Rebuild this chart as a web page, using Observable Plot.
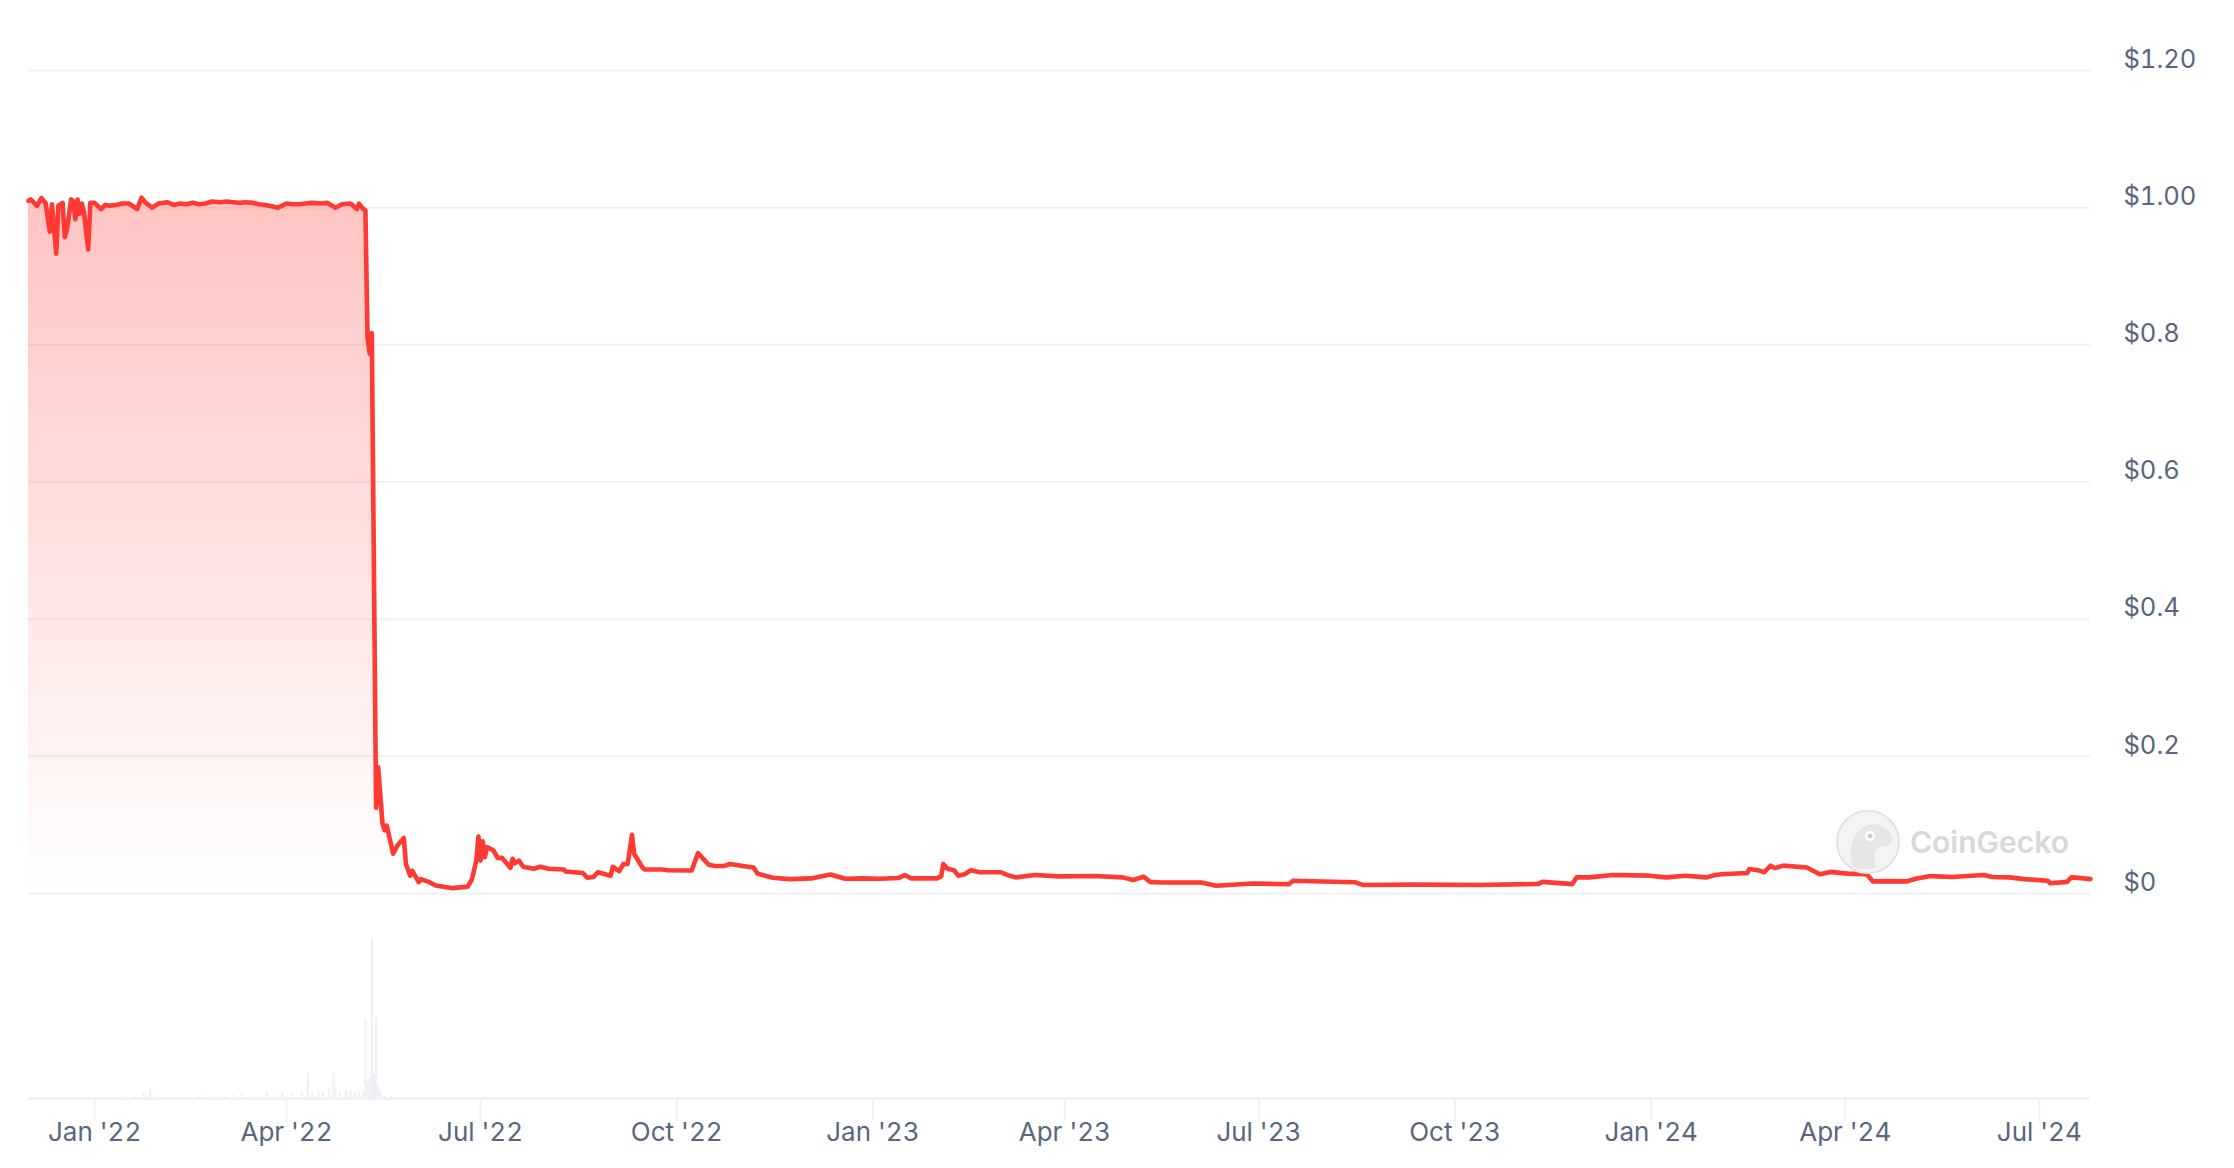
<!DOCTYPE html>
<html>
<head>
<meta charset="utf-8">
<script src="https://cdn.jsdelivr.net/npm/d3@7"></script>
<script src="https://cdn.jsdelivr.net/npm/@observablehq/plot@0.6"></script>
<style>
  html, body { margin: 0; padding: 0; background: #ffffff; }
  #wrap { position: relative; width: 2234px; height: 1168px; overflow: hidden; background: #fff; font-family: Inter, "Noto Sans", sans-serif; }
  #price, #volume { position: absolute; left: 0; }
  #price { top: 0; }
  #volume { top: 900px; }
  #mark { position: absolute; left: 1835px; top: 809px; width: 66px; height: 66px; }
  #markText { position: absolute; left: 1910px; top: 822px; font-size: 30px; line-height: 40px; font-weight: 600; color: #d8d8d8; }
</style>
</head>
<body>
<div id="wrap">
  <div id="price"></div>
  <div id="volume"></div>
  <svg id="mark" viewBox="0 0 66 66">
    <circle cx="33" cy="33" r="31" fill="#f4f4f4" stroke="#e3e3e3" stroke-width="2"/>
    <path d="M17 57 C14 42 16 23 31 17 C43 12 55 19 57 29 C58 35 52 38 45 38 C39 40 38 48 41 58 C33 62 23 61 17 57 Z" fill="#e6e6e6"/>
    <circle cx="35" cy="27" r="5" fill="#ffffff"/>
    <circle cx="35" cy="27" r="2.5" fill="#cfcfcf"/>
  </svg>
  <div id="markText">CoinGecko</div>
</div>
<script>
// ---- Price series (USD) ----
const priceDates = [
  "2021-12-01","2021-12-02","2021-12-03","2021-12-05","2021-12-07","2021-12-09","2021-12-11","2021-12-12",
  "2021-12-14","2021-12-15","2021-12-17","2021-12-18","2021-12-19","2021-12-21","2021-12-22","2021-12-23",
  "2021-12-24","2021-12-25","2021-12-26","2021-12-27","2021-12-29","2021-12-30","2022-01-01","2022-01-04",
  "2022-01-06","2022-01-08","2022-01-11","2022-01-14","2022-01-17","2022-01-21","2022-01-23","2022-01-25",
  "2022-01-28","2022-01-31","2022-02-04","2022-02-07","2022-02-10","2022-02-13","2022-02-16","2022-02-19",
  "2022-02-22","2022-02-25","2022-03-01","2022-03-04","2022-03-07","2022-03-10","2022-03-13","2022-03-16",
  "2022-03-19","2022-03-22","2022-03-25","2022-03-28","2022-04-01","2022-04-04","2022-04-07","2022-04-10",
  "2022-04-13","2022-04-17","2022-04-20","2022-04-24","2022-04-27","2022-05-01","2022-05-04","2022-05-05",
  "2022-05-07","2022-05-08","2022-05-09","2022-05-10","2022-05-11","2022-05-13","2022-05-14","2022-05-16",
  "2022-05-17","2022-05-18","2022-05-21","2022-05-23","2022-05-26","2022-05-27","2022-05-29","2022-05-30",
  "2022-06-02","2022-06-03","2022-06-07","2022-06-10","2022-06-18","2022-06-25","2022-06-27","2022-06-29",
  "2022-06-30","2022-07-01","2022-07-02","2022-07-03","2022-07-04","2022-07-07","2022-07-09","2022-07-11",
  "2022-07-15","2022-07-16","2022-07-17","2022-07-19","2022-07-21","2022-07-26","2022-07-29","2022-08-02",
  "2022-08-09","2022-08-10","2022-08-18","2022-08-20","2022-08-23","2022-08-25","2022-08-31","2022-09-01",
  "2022-09-04","2022-09-06","2022-09-08","2022-09-10","2022-09-11","2022-09-15","2022-09-16","2022-09-24",
  "2022-09-27","2022-10-08","2022-10-11","2022-10-13","2022-10-16","2022-10-19","2022-10-23","2022-10-26",
  "2022-11-01","2022-11-06","2022-11-08","2022-11-15","2022-11-23","2022-12-03","2022-12-12","2022-12-19",
  "2022-12-27","2023-01-04","2023-01-13","2023-01-16","2023-01-19","2023-01-31","2023-02-02","2023-02-03",
  "2023-02-05","2023-02-08","2023-02-10","2023-02-13","2023-02-16","2023-02-20","2023-03-02","2023-03-05",
  "2023-03-09","2023-03-18","2023-03-29","2023-04-15","2023-04-28","2023-05-03","2023-05-08","2023-05-11",
  "2023-05-16","2023-06-04","2023-06-11","2023-06-28","2023-07-15","2023-07-17","2023-08-15","2023-08-19",
  "2023-09-12","2023-10-13","2023-11-09","2023-11-11","2023-11-25","2023-11-27","2023-12-03","2023-12-14",
  "2023-12-31","2024-01-08","2024-01-17","2024-01-27","2024-01-31","2024-02-03","2024-02-15","2024-02-16",
  "2024-02-20","2024-02-23","2024-02-26","2024-02-28","2024-03-03","2024-03-14","2024-03-20","2024-03-25",
  "2024-04-02","2024-04-11","2024-04-14","2024-04-22","2024-04-30","2024-05-04","2024-05-11","2024-05-21",
  "2024-06-05","2024-06-09","2024-06-17","2024-06-24","2024-07-05","2024-07-06","2024-07-14","2024-07-16",
  "2024-07-22","2024-07-25"
];
const priceValues = [
  1.010,1.012,1.009,1.0025,1.014,1.007,0.965,1.005,
  0.933,1.003,1.007,0.957,0.967,1.012,1.009,0.983,
  1.012,0.991,1.006,0.994,0.939,1.007,1.007,0.998,
  1.004,1.003,1.004,1.006,1.006,0.998,1.0145,1.007,
  1.000,1.006,1.008,1.004,1.006,1.005,1.007,1.005,
  1.006,1.009,1.008,1.009,1.008,1.007,1.008,1.007,
  1.005,1.004,1.002,1.000,1.006,1.005,1.005,1.006,
  1.007,1.006,1.007,1.000,1.005,1.006,0.998,1.006,
  0.998,0.996,0.810,0.787,0.817,0.125,0.184,0.102,
  0.092,0.099,0.058,0.070,0.081,0.043,0.026,0.033,
  0.0165,0.021,0.0165,0.0117,0.0078,0.010,0.021,0.048,
  0.083,0.048,0.076,0.053,0.0676,0.063,0.052,0.052,
  0.0375,0.0506,0.044,0.048,0.039,0.036,0.039,0.036,
  0.035,0.032,0.030,0.023,0.024,0.031,0.026,0.039,
  0.0325,0.043,0.043,0.0856,0.058,0.0375,0.035,0.035,
  0.034,0.0336,0.059,0.052,0.042,0.040,0.040,0.043,
  0.040,0.038,0.0287,0.023,0.021,0.022,0.0277,0.0214,
  0.022,0.0214,0.0225,0.027,0.022,0.022,0.025,0.043,
  0.036,0.034,0.026,0.028,0.034,0.031,0.031,0.027,
  0.0235,0.027,0.025,0.0255,0.0235,0.0196,0.0245,0.017,
  0.016,0.016,0.0112,0.0145,0.0135,0.0185,0.0165,0.0123,
  0.013,0.0123,0.014,0.017,0.0137,0.0235,0.0235,0.027,
  0.026,0.0235,0.026,0.0235,0.027,0.028,0.0298,0.0357,
  0.034,0.031,0.0406,0.037,0.0406,0.038,0.028,0.0315,
  0.029,0.028,0.0177,0.018,0.0177,0.0215,0.0254,0.024,
  0.027,0.024,0.0235,0.021,0.0185,0.015,0.017,0.0235,
  0.022,0.021
];

// ---- Volume series (billion USD, relative) ----
const volumeDates = [
  "2022-01-12","2022-01-16","2022-01-20","2022-01-24","2022-01-27","2022-01-30","2022-02-03","2022-02-07",
  "2022-02-11","2022-02-15","2022-02-19","2022-02-23","2022-02-27","2022-03-03","2022-03-07","2022-03-11",
  "2022-03-15","2022-03-19","2022-03-23","2022-03-27","2022-03-30","2022-04-04","2022-04-08","2022-04-11",
  "2022-04-13","2022-04-16","2022-04-18","2022-04-21","2022-04-23","2022-04-24","2022-04-26","2022-04-29",
  "2022-05-01","2022-05-03","2022-05-05","2022-05-07","2022-05-08","2022-05-09","2022-05-10","2022-05-11",
  "2022-05-12","2022-05-13","2022-05-14","2022-05-15","2022-05-17","2022-05-20","2022-05-24"
];
const volumeValues = [
  0.10,0.10,0.12,0.25,0.45,0.15,0.12,0.10,
  0.12,0.10,0.12,0.15,0.10,0.12,0.15,0.20,
  0.12,0.10,0.30,0.15,0.30,0.20,0.25,1.26,
  0.30,0.35,0.30,0.45,1.26,0.55,0.30,0.35,
  0.35,0.30,0.35,0.40,4.00,0.80,1.00,8.10,
  1.20,4.10,0.60,0.30,0.12,0.10,0.08
];

// ---- Axes ----
const xDomain = ["2021-12-01", "2024-07-25"];
const xTickDates = ["2022-01-01","2022-04-01","2022-07-01","2022-10-01","2023-01-01","2023-04-01",
                    "2023-07-01","2023-10-01","2024-01-01","2024-04-01","2024-07-01"];
const yTicks = [0, 0.2, 0.4, 0.6, 0.8, 1.0, 1.2];
const yTickLabels = ["$0", "$0.2", "$0.4", "$0.6", "$0.8", "$1.00", "$1.20"];

const price = priceDates.map((d, i) => ({date: new Date(d), price: priceValues[i]}));
const volume = volumeDates.map((d, i) => ({date: new Date(d), volume: volumeValues[i]}));
const xDom = xDomain.map(d => new Date(d));
const xTicks = xTickDates.map(d => new Date(d));
const yLabel = new Map(yTicks.map((t, i) => [t, yTickLabels[i]]));
const fmtX = d3.utcFormat("%b '%y");

const RED = "#ff3a33";
const GRID = "#eff2f5";
const LABEL = "#58667e";

function gradientDefs() {
  const ns = "http://www.w3.org/2000/svg";
  const defs = document.createElementNS(ns, "defs");
  const lg = document.createElementNS(ns, "linearGradient");
  lg.setAttribute("id", "priceFill");
  lg.setAttribute("x1", "0"); lg.setAttribute("y1", "0");
  lg.setAttribute("x2", "0"); lg.setAttribute("y2", "1");
  [[0, 0.30], [1, 0.0]].forEach(([o, a]) => {
    const s = document.createElementNS(ns, "stop");
    s.setAttribute("offset", o);
    s.setAttribute("stop-color", RED);
    s.setAttribute("stop-opacity", a);
    lg.appendChild(s);
  });
  defs.appendChild(lg);
  return defs;
}

const common = {
  width: 2234,
  marginLeft: 28,
  marginRight: 144,
  style: {fontFamily: "Inter, 'Noto Sans', sans-serif", fontSize: "26px", color: LABEL, background: "transparent", overflow: "visible"}
};

const pricePlot = Plot.plot({
  ...common,
  height: 900,
  marginTop: 70,
  marginBottom: 7,
  x: {type: "utc", domain: xDom, axis: null},
  y: {domain: [0, 1.2], axis: null},
  marks: [
    gradientDefs,
    Plot.ruleY(yTicks, {y: d => d, stroke: GRID, strokeWidth: 2}),
    Plot.axisY({anchor: "right", ticks: yTicks, tickFormat: d => yLabel.get(d), tickSize: 0, tickPadding: 33, dy: -11, fill: LABEL, fontSize: 25.5, label: null}),
    Plot.areaY(price, {x: "date", y: "price", fill: "url(#priceFill)"}),
    Plot.line(price, {x: "date", y: "price", stroke: RED, strokeWidth: 4.6, strokeLinejoin: "round"})
  ]
});
document.getElementById("price").appendChild(pricePlot);

const volumePlot = Plot.plot({
  ...common,
  height: 268,
  marginTop: 0,
  marginBottom: 70,
  x: {type: "utc", domain: xDom, axis: null},
  y: {domain: [0, 10], axis: null},
  marks: [
    Plot.ruleX(volume, {x: "date", y1: 0, y2: "volume", stroke: "#edf0f5", strokeWidth: 2.2}),
    Plot.ruleY([0], {stroke: GRID, strokeWidth: 3}),
    Plot.axisX({ticks: xTicks, tickFormat: fmtX, tickSize: 23, tickPadding: 1, stroke: GRID, strokeWidth: 2, fill: LABEL, label: null})
  ]
});
document.getElementById("volume").appendChild(volumePlot);
</script>
</body>
</html>
